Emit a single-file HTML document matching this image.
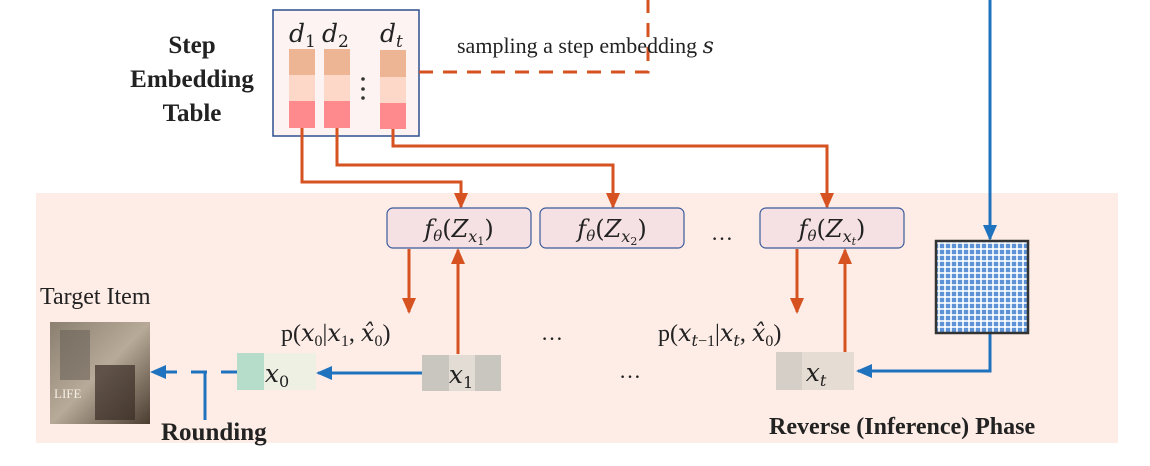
<!DOCTYPE html>
<html><head><meta charset="utf-8"><style>
html,body{margin:0;padding:0;background:#fff;}
svg{display:block;}
text{font-family:"Liberation Serif",serif;fill:#222;}
.m{font-family:"DejaVu Serif","Liberation Serif",serif;font-style:italic;}
.b{font-weight:bold;}
</style></head><body>
<svg width="1150" height="466" viewBox="0 0 1150 466" xmlns="http://www.w3.org/2000/svg">
<defs>
<pattern id="hp" width="6" height="6" patternUnits="userSpaceOnUse">
<rect width="6" height="6" fill="#5d93d6"/>
<rect x="2" y="0" width="2" height="6" fill="#dfeaf8"/>
<rect x="0" y="2" width="6" height="2" fill="#dfeaf8"/>
<rect x="2" y="2" width="2" height="2" fill="#ffffff"/>
</pattern>
<marker id="ao" markerWidth="16" markerHeight="14" refX="14" refY="7" orient="auto" markerUnits="userSpaceOnUse"><path d="M0,0 L16,7 L0,14 z" fill="#d65220"/></marker>
<marker id="ab" markerWidth="16" markerHeight="14" refX="14" refY="7" orient="auto" markerUnits="userSpaceOnUse"><path d="M0,0 L16,7 L0,14 z" fill="#1f72be"/></marker>
<linearGradient id="img" x1="0" y1="0" x2="1" y2="1"><stop offset="0" stop-color="#8a7f70"/><stop offset="0.5" stop-color="#b8aa98"/><stop offset="1" stop-color="#4a3c30"/></linearGradient>
</defs>
<rect x="36" y="193" width="1082" height="250" fill="#fdede6"/>

<text class="b" x="192" y="53" font-size="25" text-anchor="middle">Step</text>
<text class="b" x="192" y="87" font-size="25" text-anchor="middle">Embedding</text>
<text class="b" x="192" y="121" font-size="25" text-anchor="middle">Table</text>
<rect x="273" y="10" width="146" height="126" fill="#fdf3f3" stroke="#2d4f8e" stroke-width="1.5"/>
<g>
<rect x="289" y="49" width="26" height="26" fill="#edb594"/><rect x="289" y="75" width="26" height="26" fill="#fdd8c8"/><rect x="289" y="101" width="26" height="27" fill="#fe8a8e"/>
<rect x="324" y="49" width="26" height="26" fill="#edb594"/><rect x="324" y="75" width="26" height="26" fill="#fdd8c8"/><rect x="324" y="101" width="26" height="27" fill="#fe8a8e"/>
<rect x="380" y="50" width="26" height="27" fill="#edb594"/><rect x="380" y="77" width="26" height="26" fill="#fdd8c8"/><rect x="380" y="103" width="26" height="26" fill="#fe8a8e"/>
</g>
<circle cx="363" cy="79" r="1.8" fill="#333"/><circle cx="363" cy="89" r="1.8" fill="#333"/><circle cx="363" cy="98" r="1.8" fill="#333"/>
<text class="m" x="289" y="42" font-size="25">d<tspan font-size="17" dy="5" font-style="normal">1</tspan></text>
<text class="m" x="322" y="42" font-size="25">d<tspan font-size="17" dy="5" font-style="normal">2</tspan></text>
<text class="m" x="380" y="42" font-size="25">d<tspan font-size="17" dy="5">t</tspan></text>

<path d="M419,72 H648 V0" fill="none" stroke="#d65220" stroke-width="3" stroke-dasharray="14,10"/>
<text x="457" y="53" font-size="22">sampling a step embedding <tspan class="m">s</tspan></text>

<g fill="none" stroke="#d65220" stroke-width="3">
<path d="M302,128 V182 H461 V207" marker-end="url(#ao)"/>
<path d="M337,128 V165 H613 V207" marker-end="url(#ao)"/>
<path d="M393,129 V146 H827 V207" marker-end="url(#ao)"/>
<path d="M409,249 V312" marker-end="url(#ao)"/>
<path d="M458,354 V250" marker-end="url(#ao)"/>
<path d="M797,249 V312" marker-end="url(#ao)"/>
<path d="M845,354 V250" marker-end="url(#ao)"/>
</g>

<rect x="387" y="208" width="144" height="40" rx="6" fill="#f5e0e3" stroke="#3a5a9a" stroke-width="1.2"/>
<rect x="540" y="208" width="144" height="40" rx="6" fill="#f5e0e3" stroke="#3a5a9a" stroke-width="1.2"/>
<rect x="760" y="208" width="144" height="40" rx="6" fill="#f5e0e3" stroke="#3a5a9a" stroke-width="1.2"/>
<text class="m" x="459" y="237" font-size="24" text-anchor="middle">f<tspan font-size="15" dy="4">θ</tspan><tspan dy="-4" font-style="normal">(</tspan>Z<tspan font-size="16" dy="5">x</tspan><tspan font-size="11" dy="3" font-style="normal">1</tspan><tspan dy="-8" font-style="normal">)</tspan></text>
<text class="m" x="612" y="237" font-size="24" text-anchor="middle">f<tspan font-size="15" dy="4">θ</tspan><tspan dy="-4" font-style="normal">(</tspan>Z<tspan font-size="16" dy="5">x</tspan><tspan font-size="11" dy="3" font-style="normal">2</tspan><tspan dy="-8" font-style="normal">)</tspan></text>
<text class="m" x="832" y="237" font-size="24" text-anchor="middle">f<tspan font-size="15" dy="4">θ</tspan><tspan dy="-4" font-style="normal">(</tspan>Z<tspan font-size="16" dy="5">x</tspan><tspan font-size="11" dy="3">t</tspan><tspan dy="-8" font-style="normal">)</tspan></text>
<text x="722" y="240" font-size="22" text-anchor="middle">…</text>

<g fill="none" stroke="#1f72be" stroke-width="3">
<path d="M990,0 V239" marker-end="url(#ab)"/>
<path d="M990,333 V371 H858" marker-end="url(#ab)"/>
<path d="M422,373 H318" marker-end="url(#ab)"/>
<path d="M237,372 H152" stroke-dasharray="16,14" marker-end="url(#ab)"/>
<path d="M205,372 V420"/>
</g>
<rect x="936" y="241" width="92" height="92" fill="url(#hp)" stroke="#333" stroke-width="2.5"/>

<text x="281" y="341" font-size="24">p(<tspan class="m">x</tspan><tspan font-size="16" dy="5">0</tspan><tspan dy="-5">|</tspan><tspan class="m">x</tspan><tspan font-size="16" dy="5">1</tspan><tspan dy="-5">, </tspan><tspan class="m">x̂</tspan><tspan font-size="16" dy="5">0</tspan><tspan dy="-5">)</tspan></text>
<text x="658" y="341" font-size="24">p(<tspan class="m">x</tspan><tspan font-size="16" dy="5" class="m">t</tspan><tspan font-size="16">−1</tspan><tspan dy="-5">|</tspan><tspan class="m">x</tspan><tspan font-size="16" dy="5" class="m">t</tspan><tspan dy="-5">, </tspan><tspan class="m">x̂</tspan><tspan font-size="16" dy="5">0</tspan><tspan dy="-5">)</tspan></text>
<text x="552" y="340" font-size="22" text-anchor="middle">…</text>
<text x="630" y="378" font-size="22" text-anchor="middle">…</text>

<rect x="237" y="353" width="79" height="37" fill="#eef0e4"/><rect x="237" y="353" width="27" height="37" fill="#b5ddca"/>
<text class="m" x="277" y="382" font-size="25" text-anchor="middle">x<tspan font-size="16" dy="5" font-style="normal">0</tspan></text>
<rect x="422" y="355" width="79" height="36" fill="#c8c6bf"/><rect x="449" y="355" width="26" height="36" fill="#e2dcd5"/>
<text class="m" x="461" y="383" font-size="25" text-anchor="middle">x<tspan font-size="16" dy="5" font-style="normal">1</tspan></text>
<rect x="776" y="352" width="78" height="38" fill="#e5ddd4"/><rect x="776" y="352" width="26" height="38" fill="#d6cfc8"/>
<text class="m" x="816" y="381" font-size="25" text-anchor="middle">x<tspan font-size="16" dy="5">t</tspan></text>

<text x="40" y="304" font-size="24">Target Item</text>
<rect x="50" y="322" width="100" height="102" fill="url(#img)"/>
<rect x="60" y="330" width="30" height="50" fill="#6a6258" opacity="0.6"/>
<rect x="95" y="365" width="40" height="55" fill="#3a2e26" opacity="0.7"/>
<text x="54" y="398" font-size="13" style="fill:#f4efe6">LIFE</text>

<text class="b" x="161" y="440" font-size="25">Rounding</text>
<text class="b" x="769" y="434" font-size="24">Reverse (Inference) Phase</text>
</svg>
</body></html>
